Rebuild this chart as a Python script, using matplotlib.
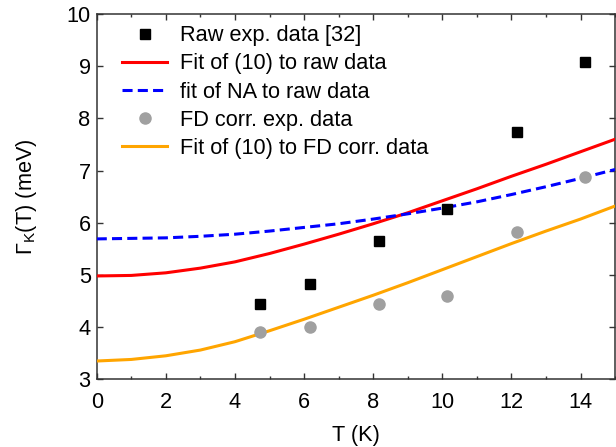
import matplotlib
matplotlib.use("Agg")
import matplotlib.pyplot as plt
from matplotlib.ticker import MultipleLocator

plt.rcParams['font.family'] = ['Liberation Sans', 'DejaVu Sans']
plt.rcParams['mathtext.fontset'] = 'custom'
plt.rcParams['mathtext.rm'] = 'Liberation Sans'
plt.rcParams['mathtext.it'] = 'Liberation Sans'

# Experimental data
T_exp = [4.72, 6.18, 8.16, 10.15, 12.15, 14.13]
raw_exp = [4.45, 4.82, 5.65, 6.26, 7.73, 9.08]
fd_exp = [3.91, 4.00, 4.44, 4.60, 5.83, 6.88]

# Fit curves
T_fit = [0, 1, 2, 3, 4, 5, 6, 7, 8, 9, 10, 11, 12, 13, 14, 15]
fit10_raw = [4.98, 4.99, 5.04, 5.13, 5.25, 5.41, 5.59, 5.78, 5.98, 6.19, 6.42, 6.65, 6.89, 7.12, 7.36, 7.60]
fitNA_raw = [5.69, 5.70, 5.71, 5.74, 5.78, 5.84, 5.91, 5.98, 6.07, 6.17, 6.28, 6.40, 6.54, 6.69, 6.85, 7.02]
fit10_fd = [3.35, 3.38, 3.45, 3.56, 3.72, 3.93, 4.15, 4.38, 4.61, 4.85, 5.10, 5.35, 5.60, 5.84, 6.07, 6.32]

labels = ["Raw exp. data [32]", "Fit of (10) to raw data", "fit of NA to raw data",
          "FD corr. exp. data", "Fit of (10) to FD corr. data"]

FS = 15.7

fig = plt.figure(figsize=(6.16, 4.47), dpi=100)
ax = fig.add_axes([0.157, 0.1515, 0.8415, 0.8172])

ax.plot(T_exp, raw_exp, linestyle='none', marker='s', color='black', markersize=6.7,
        label=labels[0], zorder=5)
ax.plot(T_fit, fit10_raw, color='#ff0000', lw=2.2, label=labels[1], zorder=3)
ax.plot(T_fit, fitNA_raw, color='#0000ff', lw=2.2, dashes=(3.3, 1.7), label=labels[2], zorder=3)
ax.plot(T_exp, fd_exp, linestyle='none', marker='o', color='#a0a0a0', markersize=8,
        label=labels[3], zorder=5)
ax.plot(T_fit, fit10_fd, color='#ffa500', lw=2.2, label=labels[4], zorder=3)

ax.set_xlim(0, 15)
ax.set_ylim(3, 10)
ax.xaxis.set_major_locator(MultipleLocator(2))
ax.xaxis.set_minor_locator(MultipleLocator(1))
ax.yaxis.set_major_locator(MultipleLocator(1))

ax.tick_params(which='both', direction='in', top=True, right=True, labelsize=FS,
               color='#333333')
ax.tick_params(which='major', length=4, width=1.0)
ax.tick_params(which='minor', length=2, width=1.0)
ax.tick_params(axis='x', which='major', pad=9)
ax.tick_params(axis='y', which='major', pad=4.3)
for s in ax.spines.values():
    s.set_linewidth(1.1)
    s.set_color('#333333')

ax.set_xlabel("T (K)", fontsize=FS, labelpad=8.5)
ax.set_ylabel("Γ$_\\mathrm{K}$(T) (meV)", fontsize=FS, labelpad=20)

leg = ax.legend(loc='upper left', bbox_to_anchor=(0.032, 0.993), borderaxespad=0,
                frameon=False, fontsize=FS, handlelength=2.07, handletextpad=0.6,
                labelspacing=0.33, borderpad=0.4)

fig.savefig("out.png", dpi=100)
